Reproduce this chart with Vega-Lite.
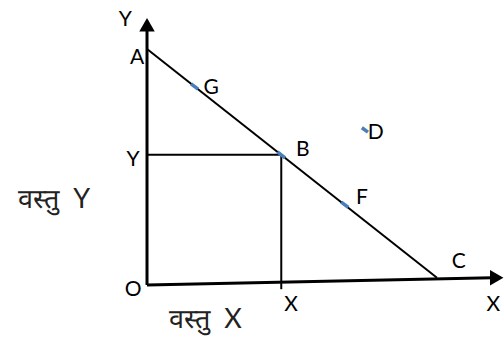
{
  "$schema": "https://vega.github.io/schema/vega-lite/v6.json",
  "width": 504,
  "height": 337,
  "padding": 0,
  "autosize": {"type": "fit", "contains": "padding"},
  "background": "white",
  "config": {"view": {"stroke": null}},
  "datasets": {
    "axes": [
      {"x": 0, "y": 0, "x2": 0, "y2": 8.7},
      {"x": 0, "y": 0, "x2": 11.9, "y2": 0.25}
    ],
    "ppc": [{"x": 0, "y": 8, "x2": 10, "y2": 0.25}],
    "guides": [
      {"x": 0, "y": 4.42, "x2": 4.63, "y2": 4.42},
      {"x": 4.63, "y": 4.42, "x2": 4.63, "y2": -0.14}
    ],
    "dashes": [
      {"point": "G", "x": 1.52, "y": 6.82, "x2": 1.76, "y2": 6.64},
      {"point": "B", "x": 4.5, "y": 4.51, "x2": 4.76, "y2": 4.31},
      {"point": "F", "x": 6.7, "y": 2.81, "x2": 6.94, "y2": 2.63},
      {"point": "D", "x": 7.41, "y": 5.33, "x2": 7.62, "y2": 5.18}
    ],
    "arrows": [
      {"axis": "Y", "x": 0, "y": 8.82, "dir": "up"},
      {"axis": "X", "x": 12.06, "y": 0.25, "dir": "right"}
    ],
    "labels": [
      {"label": "Y", "x": -0.75, "y": 8.98},
      {"label": "A", "x": -0.34, "y": 7.69},
      {"label": "G", "x": 2.21, "y": 6.69},
      {"label": "Y", "x": -0.48, "y": 4.24},
      {"label": "B", "x": 5.37, "y": 4.58},
      {"label": "D", "x": 7.89, "y": 5.15},
      {"label": "F", "x": 7.41, "y": 2.95},
      {"label": "C", "x": 10.75, "y": 0.78},
      {"label": "O", "x": -0.48, "y": -0.17},
      {"label": "X", "x": 4.97, "y": -0.68},
      {"label": "X", "x": 11.94, "y": -0.68}
    ],
    "titles": [
      {"label": "वस्तु\u00a0\u00a0Y", "x": -3.2, "y": 2.88},
      {"label": "वस्तु\u00a0\u00a0X", "x": 2.02, "y": -1.2}
    ]
  },
  "encoding": {
    "x": {"field": "x", "type": "quantitative", "scale": {"domain": [-5.07, 12.07], "nice": false, "zero": false}, "axis": null},
    "y": {"field": "y", "type": "quantitative", "scale": {"domain": [-1.76, 9.66], "nice": false, "zero": false}, "axis": null}
  },
  "layer": [
    {
      "data": {"name": "axes"},
      "mark": {"type": "rule", "color": "black", "strokeWidth": 3},
      "encoding": {"x2": {"field": "x2"}, "y2": {"field": "y2"}}
    },
    {
      "data": {"name": "ppc"},
      "mark": {"type": "rule", "color": "black", "strokeWidth": 2},
      "encoding": {"x2": {"field": "x2"}, "y2": {"field": "y2"}}
    },
    {
      "data": {"name": "guides"},
      "mark": {"type": "rule", "color": "black", "strokeWidth": 2},
      "encoding": {"x2": {"field": "x2"}, "y2": {"field": "y2"}}
    },
    {
      "data": {"name": "dashes"},
      "mark": {"type": "rule", "color": "#4a7ebb", "strokeWidth": 3.5},
      "encoding": {"x2": {"field": "x2"}, "y2": {"field": "y2"}}
    },
    {
      "data": {"name": "arrows"},
      "mark": {"type": "point", "filled": true, "color": "black", "opacity": 1, "size": 240},
      "encoding": {
        "shape": {"field": "dir", "type": "nominal", "scale": {"domain": ["up", "right"], "range": ["triangle-up", "triangle-right"]}, "legend": null}
      }
    },
    {
      "data": {"name": "labels"},
      "mark": {"type": "text", "font": "Lato", "fontSize": 21, "color": "black", "align": "center", "baseline": "middle"},
      "encoding": {"text": {"field": "label"}}
    },
    {
      "data": {"name": "titles"},
      "mark": {"type": "text", "font": "Lato", "fontSize": 27, "color": "#222", "align": "center", "baseline": "middle"},
      "encoding": {"text": {"field": "label"}}
    }
  ]
}
